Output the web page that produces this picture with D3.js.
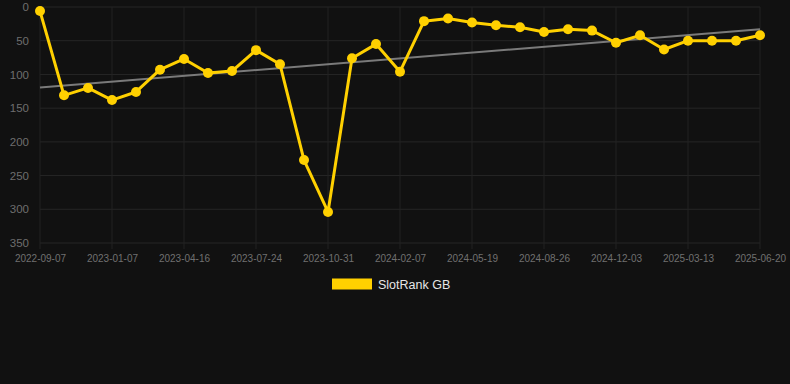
<!DOCTYPE html>
<html><head><meta charset="utf-8">
<script src="https://cdn.jsdelivr.net/npm/d3@7"></script>
<style>
html,body{margin:0;padding:0;background:#111111;}
svg{display:block;font-family:"Liberation Sans",Arial,sans-serif;}
</style></head>
<body><svg id="c" width="790" height="384"></svg>
<script>
const dates = ["2022-09-07","2022-10-08","2022-11-08","2023-01-07","2023-02-07","2023-03-10","2023-04-16","2023-05-17","2023-06-17","2023-07-24","2023-08-24","2023-09-24","2023-10-31","2023-12-01","2024-01-01","2024-02-07","2024-03-09","2024-04-09","2024-05-19","2024-06-19","2024-07-20","2024-08-26","2024-09-26","2024-10-27","2024-12-03","2025-01-03","2025-02-03","2025-03-13","2025-04-13","2025-05-14","2025-06-20"];
const rankGB = [6,131,120,138,126,93,77,98,95,64,85,227,304,76,55,96,21,17,23,27,30,37,33,35,53,42,63,50,50,50,42];
const yTicks = [0,50,100,150,200,250,300,350];
const seriesName = "SlotRank GB";

const svg = d3.select("#c");
const m = {l:40, r:760, t:7, b:243};
const x = d3.scalePoint().domain(dates).range([m.l, m.r]);
const y = d3.scaleLinear().domain([0,350]).range([m.t, m.b]);

const grid = svg.append("g");
grid.selectAll("line.h").data(yTicks).join("line")
  .attr("x1", m.l).attr("x2", m.r).attr("y1", d=>y(d)).attr("y2", d=>y(d))
  .attr("stroke", "#262626").attr("stroke-width", 1);
const xLabeled = dates.filter((d,i)=>i%3===0);
grid.selectAll("line.v").data(xLabeled).join("line")
  .attr("x1", d=>x(d)).attr("x2", d=>x(d)).attr("y1", m.t).attr("y2", m.b+6)
  .attr("stroke", "#222").attr("stroke-width", 1);

// y axis labels
const yAx = svg.append("g").attr("transform", `translate(${m.l},0)`)
  .call(d3.axisLeft(y).tickValues(yTicks).tickSize(0).tickPadding(11));
yAx.select(".domain").remove();
yAx.selectAll("text").attr("fill", "#6e6e6e").attr("font-size", "11.5px").attr("font-family","Liberation Sans, Arial, sans-serif");

// x axis labels
const xAx = svg.append("g").attr("transform", `translate(0,${m.b})`)
  .call(d3.axisBottom(x).tickValues(xLabeled).tickSize(0).tickPadding(12));
xAx.select(".domain").remove();
xAx.selectAll("text").attr("fill", "#707070").attr("font-size", "10px").attr("font-family","Liberation Sans, Arial, sans-serif");

// trend line (least squares)
const n = rankGB.length;
const xs = d3.range(n);
const mx = d3.mean(xs), my = d3.mean(rankGB);
const slope = d3.sum(xs, i => (i-mx)*(rankGB[i]-my)) / d3.sum(xs, i => (i-mx)*(i-mx));
const icpt = my - slope*mx;
svg.append("line")
  .attr("x1", x(dates[0])).attr("y1", y(icpt))
  .attr("x2", x(dates[n-1])).attr("y2", y(icpt + slope*(n-1)))
  .attr("stroke", "#7a7a7a").attr("stroke-width", 2);

// series
svg.append("path").datum(rankGB)
  .attr("d", d3.line().x((d,i)=>x(dates[i])).y(d=>y(d)))
  .attr("fill","none").attr("stroke","#FFD000").attr("stroke-width",3).attr("stroke-linejoin","round");
svg.selectAll("circle.p").data(rankGB).join("circle")
  .attr("cx",(d,i)=>x(dates[i])).attr("cy",d=>y(d)).attr("r",5)
  .attr("fill","#FFD000");

// legend
const lg = svg.append("g");
lg.append("rect").attr("x",332).attr("y",278.5).attr("width",40).attr("height",11).attr("fill","#FFD000");
lg.append("text").attr("x",378).attr("y",288.5).text(seriesName)
  .attr("fill","#e6e6e6").attr("font-size","12.5px");
</script></body></html>
